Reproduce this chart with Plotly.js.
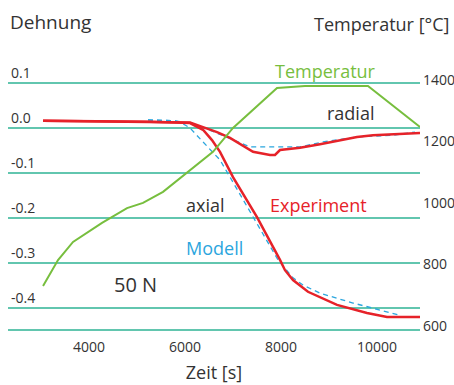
<!DOCTYPE html>
<html>
<head>
<meta charset="utf-8">
<script src="https://cdn.plot.ly/plotly-3.0.1.min.js"></script>
<style>html,body{margin:0;padding:0;background:#fff}#chart{width:454px;height:385px}</style>
</head>
<body>
<div id="chart"></div>
<script>
// Temperature curve (right axis, °C)
const tempTime = [3042, 3354, 3667, 4271, 4792, 5125, 5542, 5854, 6312, 6583, 7000, 7917, 8500, 9812, 10896];
const tempValue = [740, 824, 883, 945, 993, 1010, 1046, 1085, 1140, 1176, 1254, 1384, 1390, 1390, 1257];

// Experiment, radial strain
const expRadTime = [3042, 5271, 6104, 6375, 6667, 6937, 7187, 7417, 7771, 7875, 7979, 8396, 8812, 9583, 9917, 10896];
const expRadValue = [0.016, 0.014, 0.012, 0.002, -0.009, -0.022, -0.038, -0.053, -0.060, -0.060, -0.049, -0.044, -0.036, -0.020, -0.016, -0.011];

// Experiment, axial strain
const expAxTime = [3042, 5271, 6104, 6375, 6562, 6729, 7000, 7500, 7979, 8083, 8250, 8562, 9167, 9792, 10208, 10896];
const expAxValue = [0.016, 0.014, 0.011, -0.004, -0.027, -0.053, -0.109, -0.198, -0.293, -0.316, -0.338, -0.364, -0.393, -0.411, -0.420, -0.420];

// Model, radial strain
const modRadTime = [5229, 5792, 6250, 7083, 7354, 7833, 8396, 8875, 9583, 10333, 10792];
const modRadValue = [0.018, 0.016, 0.007, -0.031, -0.042, -0.042, -0.042, -0.031, -0.020, -0.016, -0.009];

// Model, axial strain
const modAxTime = [5229, 5792, 5900, 6104, 6375, 6729, 6937, 7417, 7937, 8250, 8458, 8812, 9500, 10479];
const modAxValue = [0.018, 0.016, 0.013, 0.000, -0.031, -0.071, -0.109, -0.198, -0.293, -0.333, -0.349, -0.367, -0.389, -0.416];

const strainTicks = [0.1, 0.0, -0.1, -0.2, -0.3, -0.4];
const strainTickText = ['0.1', '0.0', '-0.1', '-0.2', '-0.3', '-0.4'];
const tempTicks = [600, 800, 1000, 1200, 1400];
const timeTicks = [4000, 6000, 8000, 10000];

const red = '#E62229', blue = '#2BA6DE', green = '#77BE3E', teal = '#62C6AF', dark = '#333333';
const FONT = 'Open Sans, sans-serif';

const traces = [
  {x: tempTime, y: tempValue, yaxis: 'y2', mode: 'lines', line: {color: green, width: 2}, hoverinfo: 'skip'},
  {x: modRadTime, y: modRadValue, mode: 'lines', line: {color: blue, width: 1.3, dash: '5px,4px'}},
  {x: modAxTime, y: modAxValue, mode: 'lines', line: {color: blue, width: 1.3, dash: '5px,4px'}},
  {x: expRadTime, y: expRadValue, mode: 'lines', line: {color: red, width: 2.5}},
  {x: expAxTime, y: expAxValue, mode: 'lines', line: {color: red, width: 2.5}}
];

const layout = {
  width: 454, height: 385,
  margin: {l: 8, r: 34, t: 60, b: 56},
  paper_bgcolor: '#fff', plot_bgcolor: '#fff',
  showlegend: false,
  font: {family: FONT, color: dark, size: 14},
  xaxis: {
    range: [2312, 10896], tickvals: timeTicks, ticktext: timeTicks.map(String),
    showgrid: false, zeroline: false, showline: true, linecolor: teal, linewidth: 2,
    ticks: '', ticklabelstandoff: 4, tickfont: {size: 14, color: dark},
    title: {text: 'Zeit [s]', font: {size: 18, color: dark}, standoff: 12}
  },
  yaxis: {
    range: [-0.4467, 0.1511], tickvals: strainTicks, ticktext: strainTickText,
    showgrid: true, gridcolor: teal, gridwidth: 2, zeroline: false, showline: false,
    ticks: '', ticklabelposition: 'inside', ticklabelshift: -10, ticklabelstandoff: 0,
    tickfont: {size: 14, color: dark}
  },
  yaxis2: {
    range: [600, 1474.8], tickvals: tempTicks, ticktext: tempTicks.map(String),
    overlaying: 'y', side: 'right', showgrid: false, zeroline: false, showline: false,
    ticks: '', ticklabelstandoff: 2, ticklabelshift: -3, tickfont: {size: 14, color: dark}
  },
  annotations: [
    {xref: 'paper', yref: 'paper', x: 0, y: 1, yshift: 38, xanchor: 'left', yanchor: 'middle', text: 'Dehnung', showarrow: false, font: {size: 19, color: dark}},
    {xref: 'paper', yref: 'paper', x: 1, xshift: 31, y: 1, yshift: 36, xanchor: 'right', yanchor: 'middle', text: 'Temperatur [°C]', showarrow: false, font: {size: 18, color: dark}},
    {x: 8917, y: 0.1267, text: 'Temperatur', showarrow: false, font: {size: 18, color: green}},
    {x: 9458, y: 0.0333, text: 'radial', showarrow: false, font: {size: 18, color: dark}},
    {x: 6417, y: -0.171, text: 'axial', showarrow: false, font: {size: 18, color: dark}},
    {x: 8771, y: -0.171, text: 'Experiment', showarrow: false, font: {size: 18, color: red}},
    {x: 6604, y: -0.267, text: 'Modell', showarrow: false, font: {size: 18, color: blue}},
    {x: 4958, y: -0.347, text: '50 N', showarrow: false, font: {size: 20, color: dark}}
  ]
};

Plotly.newPlot('chart', traces, layout, {staticPlot: true, displayModeBar: false});
</script>
</body>
</html>
